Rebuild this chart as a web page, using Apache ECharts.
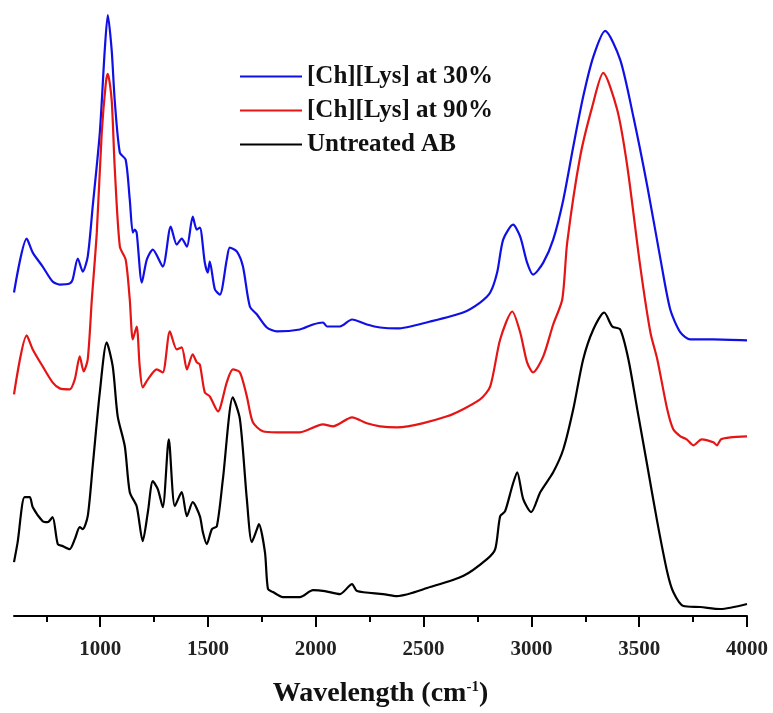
<!DOCTYPE html>
<html>
<head>
<meta charset="utf-8">
<script src="https://cdn.jsdelivr.net/npm/echarts@6/dist/echarts.min.js"></script>
<style>
  html, body { margin: 0; padding: 0; background: #fff; }
  #main { width: 773px; height: 713px; }
</style>
</head>
<body>
<div id="main"></div>
<script>
// Spektren-Daten (Wellenzahl in cm-1, Intensitaet mit Versatz, willkuerliche Einheit)
var seriesNames = ['[Ch][Lys] at 30%', '[Ch][Lys] at 90%', 'Untreated AB'];

var wnBlue = [600, 659, 687, 733, 779, 812, 858, 872, 896, 919, 942, 965, 998, 1021, 1035, 1053, 1067, 1091, 1118, 1137, 1151, 1160, 1169, 1193, 1216, 1244, 1290, 1327, 1355, 1378, 1402, 1429, 1448, 1462, 1485, 1499, 1508, 1532, 1555, 1587, 1601, 1634, 1662, 1694, 1727, 1773, 1819, 1926, 1987, 2033, 2052, 2112, 2168, 2237, 2298, 2377, 2530, 2683, 2762, 2809, 2841, 2869, 2915, 2948, 2980, 3008, 3055, 3101, 3148, 3194, 3240, 3287, 3342, 3412, 3473, 3538, 3599, 3644, 3691, 3737, 3844, 4000];
var valBlue = [324, 378, 364, 350, 335, 332, 333, 337, 358, 345, 360, 410, 484, 567, 602, 567, 517, 464, 457, 417, 384, 387, 384, 334, 357, 367, 350, 390, 372, 378, 370, 400, 387, 389, 354, 344, 355, 327, 322, 357, 369, 365, 350, 310, 302, 289, 285, 287, 292, 294, 290, 290, 297, 292, 289, 288, 295, 304, 314, 324, 344, 377, 392, 380, 354, 342, 354, 377, 417, 470, 520, 560, 586, 557, 500, 430, 357, 307, 284, 277, 277, 276];

var wnRed = [600, 659, 687, 733, 779, 812, 858, 882, 905, 923, 942, 961, 984, 1007, 1026, 1035, 1053, 1067, 1091, 1118, 1137, 1151, 1169, 1183, 1197, 1221, 1262, 1290, 1323, 1355, 1378, 1402, 1429, 1448, 1462, 1485, 1508, 1546, 1587, 1615, 1648, 1680, 1708, 1754, 1819, 1926, 2033, 2080, 2168, 2237, 2298, 2377, 2609, 2762, 2809, 2855, 2911, 2948, 2980, 3008, 3055, 3101, 3143, 3166, 3226, 3282, 3333, 3398, 3445, 3505, 3552, 3584, 3630, 3658, 3691, 3720, 3751, 3790, 3844, 3860, 3880, 3923, 4000];
var valRed = [222, 281, 267, 250, 234, 228, 227, 237, 260, 245, 257, 317, 384, 484, 534, 543, 517, 450, 370, 357, 317, 277, 290, 250, 229, 237, 247, 244, 285, 267, 269, 247, 262, 254, 252, 224, 220, 205, 234, 247, 244, 220, 194, 185, 184, 184, 192, 190, 199, 193, 190, 189, 200, 217, 230, 277, 305, 284, 254, 244, 260, 292, 317, 374, 460, 510, 544, 507, 450, 350, 284, 257, 207, 187, 180, 177, 171, 177, 174, 171, 177, 179, 180];

var wnBlack = [600, 617, 649, 673, 687, 733, 756, 779, 803, 826, 858, 882, 905, 919, 942, 965, 998, 1030, 1058, 1081, 1114, 1137, 1169, 1197, 1221, 1244, 1267, 1290, 1318, 1346, 1378, 1402, 1429, 1462, 1476, 1494, 1518, 1541, 1569, 1615, 1648, 1680, 1703, 1727, 1736, 1764, 1778, 1801, 1847, 1926, 1987, 2042, 2112, 2168, 2191, 2312, 2377, 2530, 2683, 2794, 2832, 2855, 2878, 2911, 2934, 2962, 2999, 3041, 3101, 3148, 3194, 3240, 3287, 3338, 3375, 3412, 3450, 3491, 3538, 3584, 3630, 3658, 3705, 3783, 3876, 4000];
var valBlack = [54, 74, 119, 119, 109, 95, 94, 99, 72, 70, 67, 77, 89, 87, 100, 150, 224, 274, 250, 200, 170, 124, 110, 75, 104, 135, 127, 109, 177, 110, 124, 100, 114, 100, 84, 72, 87, 90, 137, 219, 197, 117, 74, 87, 92, 64, 27, 24, 19, 19, 26, 25, 22, 32, 25, 22, 20, 29, 40, 57, 67, 100, 105, 130, 144, 117, 104, 124, 144, 167, 207, 257, 287, 304, 290, 287, 257, 207, 150, 94, 44, 24, 10, 9, 7, 12];

var majorTicks = [1000, 1500, 2000, 2500, 3000, 3500, 4000];
var minorTicks = [750, 1250, 1750, 2250, 2750, 3250, 3750];

function pairs(xs, ys) {
  return xs.map(function (x, i) { return [x, ys[i]]; });
}

var myChart = echarts.init(document.getElementById('main'));

var fontFam = '"Liberation Serif", "Times New Roman", serif';

var option = {
  backgroundColor: '#fff',
  animation: false,
  grid: { left: 14, right: 26, top: 7, bottom: 96 },
  legend: {
    orient: 'vertical',
    left: 235,
    top: 59,
    icon: 'rect',
    itemWidth: 62,
    itemHeight: 2,
    itemGap: 9,
    textStyle: {
      fontFamily: fontFam,
      fontWeight: 'bold',
      fontSize: 25,
      lineHeight: 25,
      color: '#111'
    },
    data: seriesNames
  },
  xAxis: [
    {
      type: 'value',
      min: 600,
      max: 4000,
      name: 'Wavelength (cm{sup|-1})',
      nameLocation: 'middle',
      nameGap: 64,
      nameTextStyle: {
        fontFamily: fontFam,
        fontWeight: 'bold',
        fontSize: 28,
        color: '#111',
        rich: {
          sup: {
            fontFamily: fontFam,
            fontWeight: 'bold',
            fontSize: 15,
            verticalAlign: 'top',
            padding: [0, 0, 12, 0],
            color: '#111'
          }
        }
      },
      axisLine: { lineStyle: { color: '#000', width: 2 } },
      axisTick: { customValues: majorTicks, length: 11, lineStyle: { color: '#000', width: 2 } },
      axisLabel: {
        customValues: majorTicks,
        margin: 23,
        formatter: function (v) { return String(v); },
        fontFamily: fontFam,
        fontWeight: 'bold',
        fontSize: 21,
        color: '#222'
      },
      splitLine: { show: false }
    },
    {
      type: 'value',
      min: 600,
      max: 4000,
      position: 'bottom',
      axisLine: { show: false },
      axisTick: { customValues: minorTicks, length: 6, lineStyle: { color: '#000', width: 2 } },
      axisLabel: { show: false },
      splitLine: { show: false }
    }
  ],
  yAxis: {
    type: 'value',
    min: 0,
    max: 610,
    show: false,
    splitLine: { show: false }
  },
  series: [
    {
      name: seriesNames[0],
      type: 'line',
      symbol: 'none',
      smooth: 0.25,
      color: '#1010e6',
      lineStyle: { width: 2.2 },
      data: pairs(wnBlue, valBlue)
    },
    {
      name: seriesNames[1],
      type: 'line',
      symbol: 'none',
      smooth: 0.25,
      color: '#e51515',
      lineStyle: { width: 2.2 },
      data: pairs(wnRed, valRed)
    },
    {
      name: seriesNames[2],
      type: 'line',
      symbol: 'none',
      smooth: 0.25,
      color: '#000',
      lineStyle: { width: 2.2 },
      data: pairs(wnBlack, valBlack)
    }
  ]
};

myChart.setOption(option);
</script>
</body>
</html>
